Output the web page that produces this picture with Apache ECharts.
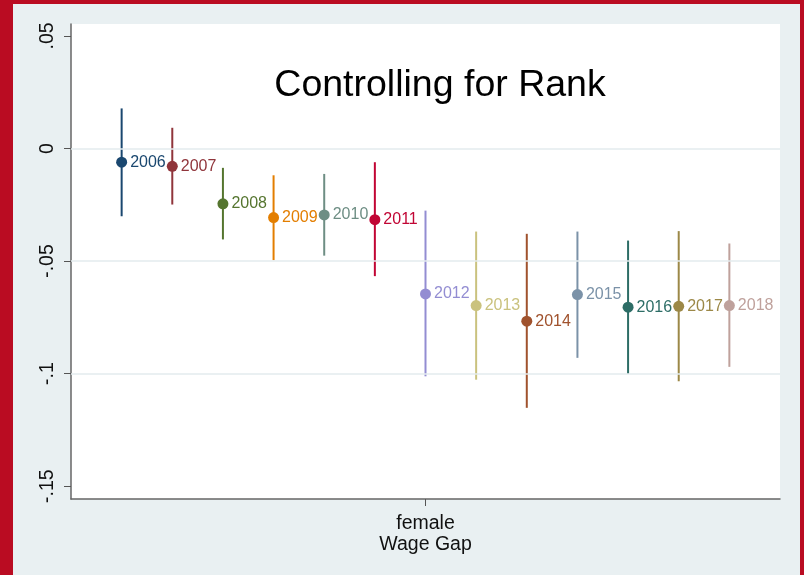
<!DOCTYPE html>
<html>
<head>
<meta charset="utf-8">
<style>
  html, body { margin: 0; padding: 0; background: #ba0c22; }
  #chart { width: 804px; height: 575px; }
</style>
<script src="https://cdn.jsdelivr.net/npm/echarts@6/dist/echarts.min.js"></script>
</head>
<body>
<div id="chart"></div>
<script>
// Female wage gap coefficient by year, with 95% confidence intervals
const years  = [2006, 2007, 2008, 2009, 2010, 2011, 2012, 2013, 2014, 2015, 2016, 2017, 2018];
const coef   = [-0.0061, -0.0079, -0.0246, -0.0307, -0.0295, -0.0316, -0.0646, -0.0698, -0.0767, -0.0649, -0.0705, -0.0701, -0.0698];
const ciLow  = [-0.0301, -0.0249, -0.0404, -0.0496, -0.0476, -0.0567, -0.1012, -0.1027, -0.1152, -0.0930, -0.1001, -0.1034, -0.0970];
const ciHigh = [ 0.0178,  0.0092, -0.0086, -0.0119, -0.0113, -0.0061, -0.0276, -0.0369, -0.0379, -0.0369, -0.0409, -0.0367, -0.0422];
const yTicks = [-0.15, -0.1, -0.05, 0, 0.05];
const yGrid  = [-0.1, -0.05, 0];
const xTickLabel = 'female';
const xTitle = 'Wage Gap';
const chartTitle = 'Controlling for Rank';

const palette = ['#1a476f', '#90353b', '#55752f', '#e37e00', '#6e8e84', '#c10534',
                 '#938dd2', '#cac27e', '#a0522d', '#7b92a8', '#2d6d66', '#9c8847', '#bfa19c'];

const FONT = '"Liberation Sans", Arial, sans-serif';
const centerYear = 2012;
const xPos = years.map(y => y - centerYear);

const fmtTick = v => {
  if (v === 0) return '0';
  let s = String(Math.round(v * 100) / 100);
  return s.replace(/^(-?)0\./, '$1.');
};

const chart = echarts.init(document.getElementById('chart'), null, { renderer: 'canvas' });

chart.setOption({
  backgroundColor: '#ba0c22',
  animation: false,
  graphic: [
    { type: 'rect', z: -10, silent: true,
      shape: { x: 13, y: 4, width: 787, height: 571 },
      style: { fill: '#e9f0f2' } }
  ],
  title: {
    text: chartTitle,
    left: 435,
    top: 62,
    textAlign: 'center',
    textStyle: { fontFamily: FONT, fontSize: 37.5, fontWeight: 'normal', color: '#000' }
  },
  grid: {
    left: 71, top: 24, width: 709, height: 475,
    show: true, backgroundColor: '#ffffff', borderWidth: 0
  },
  xAxis: {
    type: 'value',
    min: -7, max: 7,
    name: xTitle,
    nameLocation: 'middle',
    nameGap: 36,
    nameMoveOverlap: false,
    nameTextStyle: { fontFamily: FONT, fontSize: 19.5, color: '#111' },
    axisLine: { show: true, onZero: false, lineStyle: { color: '#666', width: 1.5 } },
    axisTick: { show: true, customValues: [0], length: 7, lineStyle: { color: '#555', width: 1 } },
    axisLabel: { customValues: [0], formatter: () => xTickLabel, margin: 15,
                 fontFamily: FONT, fontSize: 19.5, color: '#111' },
    splitLine: { show: false }
  },
  yAxis: {
    type: 'value',
    min: -0.1557, max: 0.0553,
    axisLine: { show: true, onZero: false, lineStyle: { color: '#666', width: 1.5 } },
    axisTick: { show: true, customValues: yTicks, length: 7, lineStyle: { color: '#555', width: 1 } },
    axisLabel: { customValues: yTicks, formatter: fmtTick, rotate: 90, margin: 13,
                 fontFamily: FONT, fontSize: 19.5, color: '#111' },
    splitLine: { show: false }
  },
  series: [
    {
      // horizontal reference grid
      type: 'line', data: [], z: 1, silent: true,
      markLine: {
        silent: true, symbol: 'none', label: { show: false },
        lineStyle: { color: '#e3ebee', width: 1.5, type: 'solid' },
        data: yGrid.map(v => ({ yAxis: v }))
      }
    },
    {
      // confidence interval spikes
      type: 'custom', z: 2, silent: true,
      data: xPos.map((x, i) => [x, ciLow[i], ciHigh[i]]),
      renderItem: (params, api) => {
        const i = params.dataIndex;
        const p0 = api.coord([api.value(0), api.value(1)]);
        const p1 = api.coord([api.value(0), api.value(2)]);
        return {
          type: 'line',
          shape: { x1: p0[0], y1: p0[1], x2: p1[0], y2: p1[1] },
          style: { stroke: palette[i], lineWidth: 2 }
        };
      }
    },
    {
      // point estimates with year labels
      type: 'scatter', z: 3, symbol: 'circle', symbolSize: 11,
      data: xPos.map((x, i) => ({
        value: [x, coef[i]],
        itemStyle: { color: palette[i], opacity: 1 },
        label: { color: palette[i] }
      })),
      itemStyle: { opacity: 1 },
      label: {
        show: true, position: 'right', distance: 3,
        formatter: p => String(years[p.dataIndex]),
        fontFamily: FONT, fontSize: 16
      }
    }
  ]
});
</script>
</body>
</html>
